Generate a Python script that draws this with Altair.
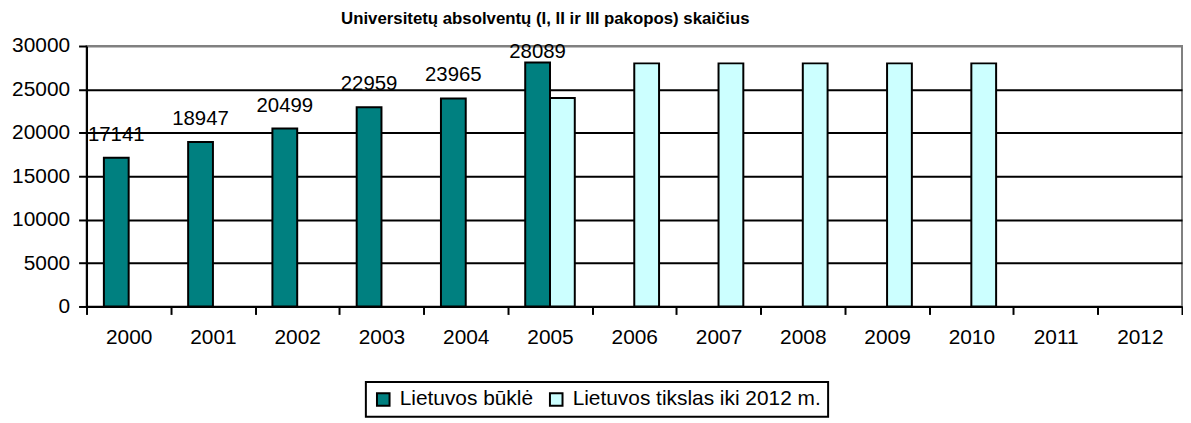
import altair as alt
import pandas as pd

# ---- data ----
years = ["2000", "2001", "2002", "2003", "2004", "2005", "2006",
         "2007", "2008", "2009", "2010", "2011", "2012"]
series_names = ["Lietuvos būklė", "Lietuvos tikslas iki 2012 m."]
actual = [17141, 18947, 20499, 22959, 23965, 28089,
          None, None, None, None, None, None, None]
target = [None, None, None, None, None, 24000,
          28000, 28000, 28000, 28000, 28000, None, None]
y_ticks = [0, 5000, 10000, 15000, 20000, 25000, 30000]
colors = ["#008080", "#CCFFFF"]
title_text = "Universitetų absolventų (I, II ir III pakopos) skaičius"

rows = []
for yr, a, t in zip(years, actual, target):
    if a is not None:
        rows.append({"year": yr, "series": series_names[0], "value": a})
    if t is not None:
        rows.append({"year": yr, "series": series_names[1], "value": t})
df = pd.DataFrame(rows)

FONT = "Liberation Sans"
W, H = 1102, 262

x_enc = alt.X(
    "year:N",
    sort=years,
    scale=alt.Scale(domain=years, paddingInner=0, paddingOuter=0),
    axis=alt.Axis(title=None, labelAngle=0, labelFontSize=21, labelFont=FONT,
                  labelColor="black", labelPadding=12, tickBand="extent",
                  tickSize=8, tickColor="black", tickWidth=2,
                  domainColor="black", domainWidth=2, grid=False),
)
xo_enc = alt.XOffset(
    "series:N",
    scale=alt.Scale(domain=series_names, paddingInner=0, paddingOuter=0.7),
)
y_axis = alt.Axis(
    title=None, values=y_ticks, format="d", labelFontSize=21, labelFont=FONT,
    labelColor="black", labelPadding=9, tickSize=8, tickColor="black",
    tickWidth=2, domainColor="black", domainWidth=2, grid=True,
    gridColor=alt.condition("datum.value == 30000", alt.value("#808080"), alt.value("black")),
    gridWidth=2,
)
y_scale = alt.Scale(domain=[0, 30000], nice=False)

color_enc = alt.Color(
    "series:N",
    scale=alt.Scale(domain=series_names, range=colors),
    legend=alt.Legend(
        title=None, orient="none", legendX=281, legendY=338,
        direction="horizontal", strokeColor="black",
        padding=7, fillColor="white", symbolType="square", symbolSize=160,
        symbolStrokeColor="black", symbolStrokeWidth=2, symbolOpacity=1,
        labelFontSize=21, labelFont=FONT, labelColor="black", labelLimit=500,
        columnPadding=12, labelOffset=6,
    ),
)

bars = alt.Chart(df).mark_bar(stroke="black", strokeWidth=2, opacity=1).encode(
    x=x_enc,
    xOffset=xo_enc,
    y=alt.Y("value:Q", scale=y_scale, axis=y_axis),
    color=color_enc,
)

labels = (
    alt.Chart(df)
    .transform_filter(alt.datum.series == series_names[0])
    .transform_calculate(label_y="min(datum.value + 1950, 28660)")
    .mark_text(fontSize=20.5, font=FONT, color="black", baseline="alphabetic", align="center")
    .encode(
        x=x_enc,
        xOffset=xo_enc,
        y=alt.Y("label_y:Q", scale=y_scale, axis=y_axis),
        text=alt.Text("value:Q", format="d"),
    )
)

chart = (
    alt.layer(bars, labels)
    .properties(
        width=W,
        height=H,
        title=alt.Title(title_text, fontSize=16.9, font=FONT, fontWeight="bold",
                        color="black", anchor="middle", dx=-89.5, offset=7),
        padding={"left": 79, "top": 37, "right": 1, "bottom": 116},
        autosize=alt.AutoSizeParams(type="none"),
        background="white",
    )
    .configure_view(stroke="#808080", strokeWidth=2)
    .configure_legend(strokeWidth=2)
)

chart.save("out.html", embed_options={"renderer": "svg", "actions": False})
